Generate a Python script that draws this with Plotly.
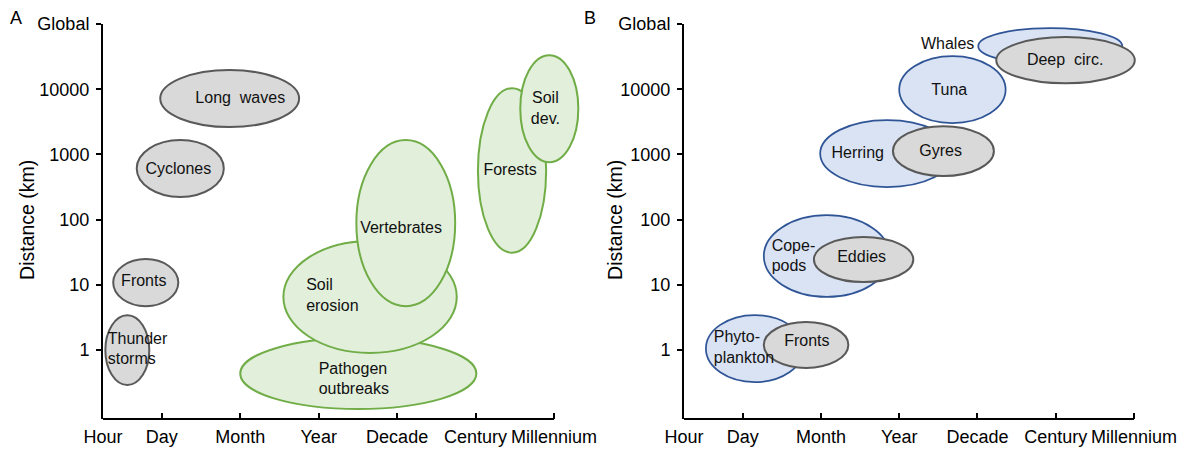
import plotly.graph_objects as go

# ---------------- data ----------------
TIME_LABELS = ["Hour", "Day", "Month", "Year", "Decade", "Century", "Millennium"]
TIME_POS = [0, 0.75, 1.75, 2.75, 3.75, 4.75, 5.75]
DIST_TICKS = [1, 10, 100, 1000, 10000, 100000]
DIST_LABELS = ["1", "10", "100", "1000", "10000", "Global"]

# Panel A (atmosphere / terrestrial)
A_NAMES = ["Long  waves", "Cyclones", "Fronts", "Thunder<br>storms", "Pathogen<br>outbreaks",
           "Soil<br>erosion", "Vertebrates", "Forests", "Soil<br>dev."]
A_KIND = ["phys", "phys", "phys", "phys", "terr", "terr", "terr", "terr", "terr"]
A_T_LO = [0.73, 0.43, 0.13, 0.03, 1.75, 2.30, 3.23, 4.78, 5.32]
A_T_HI = [2.50, 1.54, 0.96, 0.59, 4.76, 4.51, 4.49, 5.65, 6.06]
A_D_LO = [2630, 222, 4.7, 0.29, 0.124, 0.9, 4.7, 31, 760]
A_D_HI = [19700, 1660, 24.8, 3.4, 1.52, 47, 1660, 10400, 33400]
A_LBL_T = [1.75, 0.96, 0.52, 0.06, 2.75, 2.59, 3.80, 5.19, 5.64]
A_LBL_D = [7070, 575, 11.0, 1.0, 0.345, 6.6, 71.6, 556, 4960]
A_LBL_ALIGN = ["c", "c", "c", "l", "l", "l", "c", "c", "c"]

# Panel B (ocean)
B_NAMES = ["Whales", "Deep  circ.", "Tuna", "Herring", "Gyres", "Cope-<br>pods", "Eddies",
           "Phyto-<br>plankton", "Fronts"]
B_KIND = ["bio", "phys", "bio", "bio", "phys", "bio", "phys", "bio", "phys"]
B_T_LO = [3.76, 3.99, 2.75, 1.74, 2.67, 1.02, 1.66, 0.28, 1.02]
B_T_HI = [5.60, 5.76, 4.11, 3.45, 3.96, 2.63, 2.93, 1.53, 2.10]
B_D_LO = [24300, 12400, 3030, 316, 466, 6.5, 11.0, 0.32, 0.53]
B_D_HI = [86900, 63200, 32300, 3370, 2720, 117, 54, 3.43, 2.68]
B_LBL_T = [3.71, 4.87, 3.39, 2.22, 3.28, 1.12, 2.27, 0.38, 1.57]
B_LBL_D = [47600, 27000, 9380, 1010, 1090, 26.6, 25.7, 1.05, 1.32]
B_LBL_ALIGN = ["r", "c", "c", "c", "c", "l", "c", "l", "c"]

# ---------------- styles ----------------
STYLE = {
    "phys": dict(fill="#d9d9d9", line="#595959", width=2),
    "terr": dict(fill="#e2efda", line="#70ad47", width=2),
    "bio": dict(fill="#dae3f3", line="#2f5597", width=1.75),
}
POS = {"c": "middle center", "l": "middle right", "r": "middle left"}
FONT = "Liberation Sans, Arial, sans-serif"
W, H = 1189, 450

fig = go.Figure()
shapes = []


def add_panel(xa, ya, names, kind, tlo, thi, dlo, dhi, lt, ld, al):
    for i in range(len(names)):
        st = STYLE[kind[i]]
        shapes.append(dict(type="circle", xref=xa, yref=ya,
                           x0=tlo[i], x1=thi[i], y0=dlo[i], y1=dhi[i],
                           fillcolor=st["fill"], line=dict(color=st["line"], width=st["width"]),
                           layer="below"))
    fig.add_trace(go.Scatter(x=lt, y=ld, text=names, mode="text",
                             textposition=[POS[a] for a in al],
                             textfont=dict(size=16, color="#111111", family=FONT),
                             xaxis=xa, yaxis=ya, hoverinfo="skip", cliponaxis=False,
                             showlegend=False))
    # x axis baseline ending at the Millennium tick
    shapes.append(dict(type="line", xref=xa, yref=ya + " domain",
                       x0=TIME_POS[0], x1=TIME_POS[-1], y0=0, y1=0,
                       line=dict(color="black", width=2), layer="above"))


add_panel("x", "y", A_NAMES, A_KIND, A_T_LO, A_T_HI, A_D_LO, A_D_HI, A_LBL_T, A_LBL_D, A_LBL_ALIGN)
add_panel("x2", "y2", B_NAMES, B_KIND, B_T_LO, B_T_HI, B_D_LO, B_D_HI, B_LBL_T, B_LBL_D, B_LBL_ALIGN)

x_common = dict(range=[0, 6.2], tickmode="array", tickvals=TIME_POS, ticktext=TIME_LABELS,
                ticks="inside", ticklen=6, tickwidth=1.5, tickcolor="black", tickangle=0,
                showline=False, showgrid=False, zeroline=False, automargin=False,
                tickfont=dict(size=18, color="black", family=FONT), ticklabelstandoff=5)
y_common = dict(type="log", range=[-1.06, 5.002], tickmode="array", tickvals=DIST_TICKS,
                ticktext=DIST_LABELS, ticks="outside", ticklen=5, tickwidth=1.5,
                tickcolor="black", showline=True, linewidth=2, linecolor="black",
                showgrid=False, zeroline=False, automargin=False,
                tickfont=dict(size=18, color="black", family=FONT), ticklabelstandoff=3)

fig.update_layout(
    width=W, height=H,
    margin=dict(l=0, r=0, t=24, b=31, autoexpand=False),
    paper_bgcolor="white", plot_bgcolor="white",
    showlegend=False,
    xaxis=dict(domain=[103 / W, 589.3 / W], anchor="y", **x_common),
    yaxis=dict(domain=[0, 1], anchor="x", **y_common),
    xaxis2=dict(domain=[684 / W, 1169.2 / W], anchor="y2", **x_common),
    yaxis2=dict(domain=[0, 1], anchor="x2", **y_common),
    shapes=shapes,
    annotations=[
        dict(text="A", x=16 / W, y=1.015, xref="paper", yref="paper", showarrow=False,
             xanchor="center", yanchor="middle", font=dict(size=18, color="black", family=FONT)),
        dict(text="B", x=590 / W, y=1.015, xref="paper", yref="paper", showarrow=False,
             xanchor="center", yanchor="middle", font=dict(size=18, color="black", family=FONT)),
        dict(text="Distance (km)", x=27 / W, y=0.504, xref="paper", yref="paper", showarrow=False,
             textangle=-90, xanchor="center", yanchor="middle",
             font=dict(size=19.5, color="black", family=FONT)),
        dict(text="Distance (km)", x=615 / W, y=0.504, xref="paper", yref="paper", showarrow=False,
             textangle=-90, xanchor="center", yanchor="middle",
             font=dict(size=19.5, color="black", family=FONT)),
    ],
)

fig.write_html("out.html")
